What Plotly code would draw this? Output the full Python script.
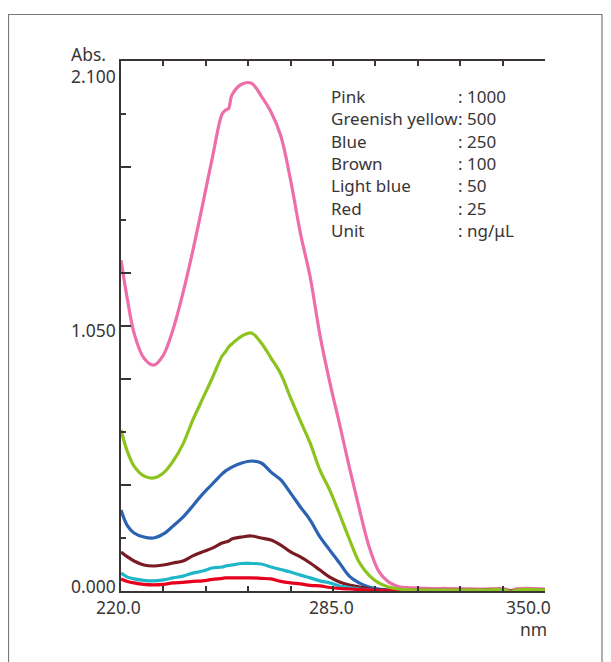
import plotly.graph_objects as go

# ---------------- data ----------------
wavelength_nm = [220, 222, 224, 227, 230, 233, 236, 239, 242, 245,
                 248, 251, 252, 253, 254, 257, 260, 263, 266, 269,
                 272, 275, 278, 281, 284, 287, 290, 293, 296, 299,
                 302, 305, 310, 315, 320, 330, 338, 339.5, 341, 350]

abs_pink = [1.311, 1.153, 1.022, 0.923, 0.895, 0.935, 1.038, 1.181, 1.347, 1.529,
            1.716, 1.890, 1.905, 1.912, 1.965, 2.008, 2.012, 1.961, 1.898, 1.803,
            1.628, 1.418, 1.244, 1.014, 0.828, 0.662, 0.491, 0.329, 0.178, 0.079,
            0.036, 0.018, 0.012, 0.010, 0.010, 0.008, 0.008, 0.000, 0.008, 0.008]

abs_green = [0.638, 0.551, 0.495, 0.456, 0.448, 0.468, 0.515, 0.582, 0.677, 0.761,
             0.844, 0.931, 0.947, 0.967, 0.979, 1.010, 1.022, 0.983, 0.923, 0.860,
             0.765, 0.674, 0.586, 0.479, 0.400, 0.305, 0.206, 0.115, 0.063, 0.032,
             0.016, 0.008, 0.004, 0.004, 0.004, 0.004, 0.004, -0.004, 0.004, 0.004]

abs_blue = [0.321, 0.258, 0.230, 0.214, 0.210, 0.226, 0.258, 0.293, 0.337, 0.384,
            0.424, 0.464, 0.475, 0.483, 0.491, 0.507, 0.515, 0.507, 0.471, 0.440,
            0.388, 0.333, 0.281, 0.214, 0.162, 0.111, 0.059, 0.032, 0.016, 0.008,
            0.004, 0.004, 0.002, 0.002, 0.002, 0.002, 0.002, -0.004, 0.002, 0.002]

abs_brown = [0.155, 0.135, 0.119, 0.103, 0.099, 0.103, 0.111, 0.119, 0.139, 0.155,
             0.170, 0.190, 0.194, 0.198, 0.206, 0.214, 0.218, 0.210, 0.202, 0.182,
             0.155, 0.135, 0.111, 0.083, 0.055, 0.036, 0.024, 0.016, 0.008, 0.004,
             0.003, 0.003, 0.003, 0.003, 0.003, 0.003, 0.003, 0.000, 0.003, 0.003]

abs_lightblue = [0.071, 0.055, 0.048, 0.042, 0.040, 0.044, 0.052, 0.059, 0.071, 0.079,
                 0.091, 0.095, 0.099, 0.101, 0.103, 0.109, 0.109, 0.107, 0.095, 0.085,
                 0.075, 0.063, 0.052, 0.040, 0.032, 0.020, 0.014, 0.008, 0.004, 0.002,
                 0.002, 0.002, 0.002, 0.002, 0.002, 0.002, 0.002, 0.000, 0.002, 0.002]

abs_red = [0.048, 0.038, 0.032, 0.026, 0.024, 0.026, 0.032, 0.034, 0.038, 0.040,
           0.046, 0.050, 0.052, 0.052, 0.052, 0.052, 0.052, 0.050, 0.048, 0.038,
           0.032, 0.028, 0.022, 0.020, 0.014, 0.010, 0.008, 0.006, 0.004, 0.002,
           0.002, 0.002, 0.002, 0.002, 0.002, 0.002, 0.002, 0.000, 0.002, 0.002]

legend_names = ["Pink", "Greenish yellow", "Blue", "Brown", "Light blue", "Red", "Unit"]
legend_values = [": 1000", ": 500", ": 250", ": 100", ": 50", ": 25", ": ng/\u03bcL"]

x_tick_labels = ["220.0", "285.0", "350.0"]
y_tick_labels = ["0.000", "1.050", "2.100"]

x_minor_ticks = [233, 246, 259, 272, 285, 298, 311, 324, 337]
y_left_long = [0.42, 0.84, 1.05, 1.26, 1.68]
y_left_short = [0.21, 0.63, 1.47, 1.89]
y_right_long = [0.42, 0.84, 1.26, 1.68]
y_right_short = [0.21, 0.63, 1.05, 1.47, 1.89]

# ---------------- layout geometry ----------------
# The page body adds an 8px margin, so figure coordinates are the
# screen coordinates minus 8.
OFF = 8
W, H = 611 - OFF, 662 - OFF
L, R, T, B = 121 - OFF, 545 - OFF, 61 - OFF, 591 - OFF
AX = "#3b3434"
TXT = "#3a3535"
FONT = "Noto Sans"


def px(xs):
    """screen x (reference pixels) -> paper coordinate"""
    return (xs - OFF - L) / (R - L)


def py(ys):
    """screen y (reference pixels) -> paper coordinate"""
    return (B - (ys - OFF)) / (B - T)


series = [
    (abs_pink, "#EE6EA9"),
    (abs_blue, "#2C62B2"),
    (abs_brown, "#7A1B24"),
    (abs_lightblue, "#20B6CA"),
    (abs_red, "#E7001D"),
    (abs_green, "#8CC31F"),
]

fig = go.Figure()
for vals, col in series:
    fig.add_trace(go.Scatter(
        x=wavelength_nm, y=vals, mode="lines",
        line=dict(color=col, width=3.2, shape="spline", smoothing=1.0),
        showlegend=False, hoverinfo="skip"))

tick_common = dict(ticks="inside", tickcolor=AX, tickwidth=1.5,
                   showgrid=False, zeroline=False, showticklabels=False,
                   showline=True, linecolor=AX, linewidth=2)

fig.update_layout(
    width=W, height=H, autosize=False,
    margin=dict(l=L, r=W - R, t=T, b=H - B, pad=0),
    paper_bgcolor="white", plot_bgcolor="white",
    font=dict(family=FONT, size=17, color=TXT),
    xaxis=dict(range=[220, 350], mirror="ticks", tickmode="array",
               tickvals=x_minor_ticks, ticklen=5, **tick_common),
    yaxis=dict(range=[0, 2.1], tickmode="array", tickvals=y_left_long,
               ticklen=10,
               minor=dict(tickmode="array", tickvals=y_left_short, ticks="inside",
                          ticklen=5, tickwidth=1.5, tickcolor=AX, showgrid=False),
               **tick_common),
    yaxis2=dict(range=[0, 2.1], overlaying="y", side="right", anchor="x",
                tickmode="array", tickvals=y_right_long, ticklen=10,
                minor=dict(tickmode="array", tickvals=y_right_short, ticks="inside",
                           ticklen=5, tickwidth=1.5, tickcolor=AX, showgrid=False),
                **tick_common),
)

# outer frame
fig.add_shape(type="rect", xref="paper", yref="paper",
              x0=px(8.5), x1=px(602), y0=py(700), y1=py(14.5),
              line=dict(color="#7a7a7a", width=1.2), fillcolor="rgba(0,0,0,0)",
              layer="below")

LBL = 17.5
ann = []
# y labels
for lab, yc in zip(y_tick_labels, [585.5, 330, 75.5]):
    ann.append(dict(text=lab, x=px(117), y=py(yc), xanchor="right", yanchor="middle",
                    size=LBL))
ann.append(dict(text="Abs.", x=px(70), y=py(53.5), xanchor="left", yanchor="middle", size=LBL))
# x labels
ann.append(dict(text=x_tick_labels[0], x=px(118), y=py(607), xanchor="center",
                yanchor="middle", size=LBL))
ann.append(dict(text=x_tick_labels[1], x=px(331), y=py(607), xanchor="center",
                yanchor="middle", size=LBL))
ann.append(dict(text=x_tick_labels[2], x=px(552), y=py(606.5), xanchor="right",
                yanchor="middle", size=LBL))
ann.append(dict(text="nm", x=px(548), y=py(629), xanchor="right", yanchor="middle",
                size=LBL))
# legend text
for i, (n, v) in enumerate(zip(legend_names, legend_values)):
    yc = 96.5 + 22.35 * i
    ann.append(dict(text=n, x=px(330), y=py(yc), xanchor="left", yanchor="middle", size=17))
    ann.append(dict(text=v, x=px(457), y=py(yc), xanchor="left", yanchor="middle", size=17))

final = []
for a in ann:
    s = a.pop("size")
    a.update(xref="paper", yref="paper", showarrow=False, borderpad=0,
             font=dict(family=FONT, size=s, color=TXT))
    final.append(a)
fig.update_layout(annotations=final)

fig.write_html("out.html")
